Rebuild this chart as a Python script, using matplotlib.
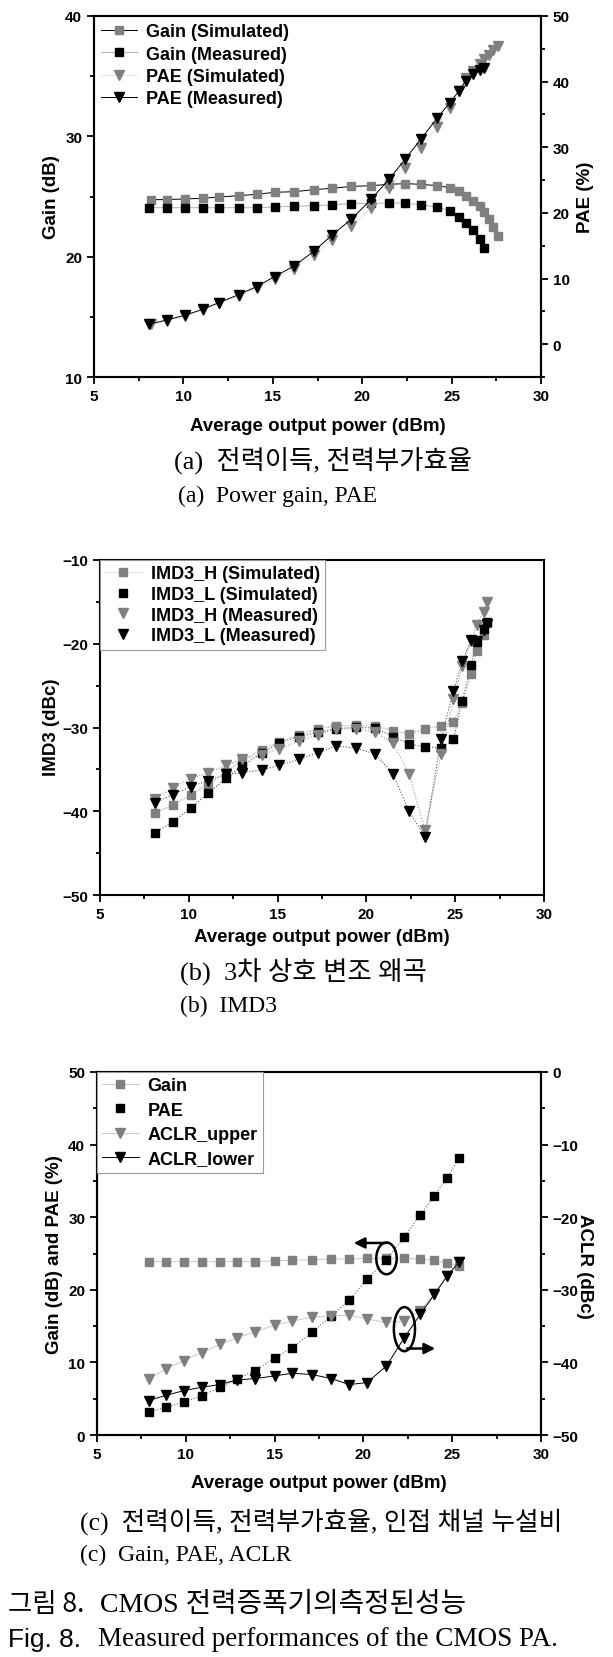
import numpy as np
import matplotlib
matplotlib.use('Agg')
import matplotlib.pyplot as plt
from matplotlib.patches import Ellipse
from matplotlib.ticker import MultipleLocator

plt.rcParams['font.family'] = ['Liberation Sans', 'DejaVu Sans']
plt.rcParams['font.weight'] = 'bold'

# ---- (a) gain / PAE ----
a_x_sim = [8.2, 9.1, 10.1, 11.1, 12.0, 13.1, 14.1, 15.1, 16.2, 17.3, 18.3, 19.4, 20.5,
           21.5, 22.4, 23.3, 24.2, 24.9, 25.4, 25.8, 26.2, 26.6, 26.8, 27.1, 27.3, 27.6]
gain_sim = [24.74, 24.74, 24.8, 24.85, 24.96, 25.07, 25.18, 25.35, 25.4, 25.57, 25.68, 25.84, 25.9,
            26.01, 26.07, 26.01, 25.9, 25.73, 25.46, 25.07, 24.63, 24.19, 23.74, 23.14, 22.47, 21.75]
pae_sim = [3.05, 3.55, 4.31, 5.23, 6.24, 7.36, 8.58, 10.0, 11.52, 13.55, 15.89, 18.02, 20.76,
           23.8, 26.85, 29.9, 33.15, 35.99, 38.53, 40.56, 41.68, 42.69, 43.4, 44.11, 44.82, 45.43]
a_x_meas = [8.1, 9.1, 10.1, 11.1, 12.0, 13.1, 14.1, 15.1, 16.2, 17.3, 18.3, 19.4, 20.5,
            21.5, 22.4, 23.3, 24.2, 24.9, 25.4, 25.8, 26.2, 26.6, 26.8]
gain_meas = [24.07, 24.07, 24.07, 24.07, 24.07, 24.07, 24.07, 24.13, 24.19, 24.24, 24.3, 24.41, 24.44,
             24.46, 24.46, 24.3, 24.13, 23.8, 23.3, 22.8, 22.25, 21.48, 20.76]
pae_meas = [3.05, 3.71, 4.42, 5.33, 6.35, 7.56, 8.78, 10.3, 11.93, 14.16, 16.6, 19.04, 22.08,
            25.13, 28.17, 31.32, 34.47, 36.8, 38.53, 40.15, 41.17, 41.78, 42.08]

# ---- (b) IMD3 ----
b_x = [8.1, 9.1, 10.1, 11.1, 12.1, 13.0, 14.1, 15.1, 16.2, 17.3, 18.3, 19.4, 20.5,
       21.5, 22.4, 23.3, 24.2, 24.9, 25.4, 25.9, 26.2, 26.6, 26.8]
imd_h_sim = [-40.17, -39.29, -38.02, -36.75, -35.31, -33.88, -32.69, -31.73, -30.86, -30.14, -29.82, -29.74,
             -29.82, -30.38, -30.78, -30.14, -29.82, -29.34, -27.11, -23.61, -20.83, -19.0, -17.48]
imd_l_sim = [-42.56, -41.28, -39.61, -37.86, -36.03, -34.6, -33.08, -31.81, -31.09, -30.54, -30.14, -29.98,
             -30.06, -31.09, -31.97, -32.29, -32.45, -31.41, -26.8, -22.5, -19.79, -18.28, -17.4]
imd_h_meas = [-38.5, -37.22, -36.11, -35.39, -34.52, -33.8, -33.24, -32.53, -31.65, -30.86, -30.14, -30.14,
              -30.54, -31.89, -35.55, -42.24, -33.16, -26.64, -22.66, -19.63, -17.72, -16.21, -15.01]
imd_l_meas = [-38.98, -38.02, -37.06, -36.35, -35.6, -35.4, -35.07, -34.52, -33.8, -33.0, -32.21, -32.45,
              -33.16, -35.55, -40.01, -43.03, -31.33, -25.68, -22.1, -19.55, -19.7, -18.3, -17.6]

# ---- (c) gain / PAE / ACLR ----
c_x = [7.9, 8.9, 9.9, 10.9, 11.9, 12.9, 13.9, 15.0, 16.0, 17.1, 18.2, 19.2, 20.2, 21.3, 22.3, 23.2, 24.0, 24.7, 25.4]
c_gain = [23.87, 23.87, 23.87, 23.87, 23.87, 23.87, 23.87, 23.97, 24.06, 24.15, 24.24, 24.24, 24.33,
          24.33, 24.33, 24.24, 24.06, 23.69, 23.32]
c_pae = [3.17, 3.82, 4.55, 5.38, 6.58, 7.68, 8.88, 10.63, 12.01, 14.12, 16.42, 18.54, 21.48,
         24.15, 27.28, 30.31, 32.98, 35.37, 38.22]
aclr_upper = [-42.23, -40.85, -39.74, -38.64, -37.53, -36.61, -35.79, -34.87, -34.31, -33.76, -33.58, -33.49,
              -34.04, -34.5, -34.31, -32.93, -30.54, -28.15, -26.13]
aclr_lower = [-45.26, -44.53, -43.88, -43.42, -43.05, -42.41, -42.23, -41.86, -41.49, -41.67, -42.23, -43.05,
              -42.78, -40.48, -36.61, -33.39, -30.63, -28.15, -26.13]

GRAY = '#808080'
W, H = 613, 1658
fig = plt.figure(figsize=(W / 100, H / 100), dpi=100)


def axes_px(left, top, right, bottom):
    return fig.add_axes([left / W, 1 - bottom / H, (right - left) / W, (bottom - top) / H])


def ftext(x, y, s, **kw):
    fig.text(x / W, 1 - y / H, s, **kw)


def style(ax, xlim, ylim, ymaj, ymin):
    ax.set_xlim(*xlim)
    ax.set_ylim(*ylim)
    ax.xaxis.set_major_locator(MultipleLocator(5))
    ax.xaxis.set_minor_locator(MultipleLocator(2.5))
    ax.yaxis.set_major_locator(MultipleLocator(ymaj))
    ax.yaxis.set_minor_locator(MultipleLocator(ymin))
    for s in ax.spines.values():
        s.set_linewidth(1.5)
    ax.tick_params(which='major', direction='out', length=5, width=1.3, labelsize=11)
    ax.tick_params(which='minor', direction='out', length=3, width=1.3)


lab = dict(fontsize=13.5, fontweight='bold', ha='center', va='center')
leg_prop = {'size': 13, 'weight': 'bold'}
ms = 5.5

# ===== panel (a) =====
ax = axes_px(94, 17, 541, 378)
style(ax, (5, 30), (10, 40), 10, 5)
ax2 = ax.twinx()
style(ax2, (5, 30), (-5, 50), 10, 5)
ax.plot(a_x_sim, gain_sim, '-', color='k', lw=0.7, marker='s', mfc=GRAY, mec=GRAY, ms=ms, label='Gain (Simulated)')
ax.plot(a_x_meas, gain_meas, '-', color='#b0b0b0', lw=0.7, marker='s', mfc='k', mec='k', ms=ms, label='Gain (Measured)')
ax2.plot(a_x_sim, pae_sim, '-', color='#e6e6e6', lw=0.7, marker='v', mfc=GRAY, mec=GRAY, ms=ms + 1, label='PAE (Simulated)')
ax2.plot(a_x_meas, pae_meas, '-', color='k', lw=0.7, marker='v', mfc='k', mec='k', ms=ms + 1, label='PAE (Measured)')
h1, l1 = ax.get_legend_handles_labels()
h2, l2 = ax2.get_legend_handles_labels()
ax2.legend(h1 + h2, l1 + l2, loc='upper left', bbox_to_anchor=(0, 1), borderaxespad=0, borderpad=0.4,
           frameon=False, prop=leg_prop, handlelength=2.0, handletextpad=0.5, labelspacing=0.3)
ftext(51, 197, 'Gain (dB)', rotation=90, **lab)
ftext(586, 197, 'PAE (%)', rotation=90, **lab)
ftext(318, 427, 'Average output power (dBm)', **lab)

# ===== panel (b) =====
bx = axes_px(100, 561, 544, 896)
style(bx, (5, 30), (-50, -10), 10, 5)
bx.plot(b_x, imd_h_sim, ':', color='#999999', lw=0.8)
bx.plot(b_x, imd_l_sim, ':', color='#555555', lw=0.8)
bx.plot(b_x, imd_h_meas, ':', color='#999999', lw=0.8)
bx.plot(b_x, imd_l_meas, ':', color='#555555', lw=0.8)
bx.plot(b_x, imd_h_sim, ls='-', color='#dddddd', lw=0.7, marker='s', mfc=GRAY, mec=GRAY, ms=ms,
        label='IMD3_H (Simulated)')
bx.plot(b_x, imd_l_sim, ls='none', marker='s', mfc='k', mec='k', ms=ms, label='IMD3_L (Simulated)')
bx.plot(b_x, imd_h_meas, ls='none', marker='v', mfc=GRAY, mec=GRAY, ms=ms + 1, label='IMD3_H (Measured)')
bx.plot(b_x, imd_l_meas, ls='none', marker='v', mfc='k', mec='k', ms=ms + 1, label='IMD3_L (Measured)')
lg = bx.legend(loc='upper left', bbox_to_anchor=(0, 1), borderaxespad=0, borderpad=0.3, frameon=True,
               fancybox=False, edgecolor='#999999', framealpha=1, prop=leg_prop, handlelength=2.0,
               handletextpad=0.5, labelspacing=0.2)
lg.get_frame().set_linewidth(0.8)
ftext(51, 727, 'IMD3 (dBc)', rotation=90, **lab)
ftext(322, 938, 'Average output power (dBm)', **lab)

# ===== panel (c) =====
cx = axes_px(97, 1073, 541, 1436)
style(cx, (5, 30), (0, 50), 10, 5)
cx2 = cx.twinx()
style(cx2, (5, 30), (-50, 0), 10, 5)
cx.plot(c_x, c_gain, '-', color='#c8c8c8', lw=0.7, marker='s', mfc=GRAY, mec=GRAY, ms=ms, label='Gain')
cx.plot(c_x, c_pae, ':', color='#666666', lw=0.8)
cx.plot(c_x, c_pae, ls='none', marker='s', mfc='k', mec='k', ms=ms, label='PAE')
cx2.plot(c_x, aclr_upper, '-', color='#c8c8c8', lw=0.7, marker='v', mfc=GRAY, mec=GRAY, ms=ms + 1, label='ACLR_upper')
cx2.plot(c_x, aclr_lower, '-', color='k', lw=0.7, marker='v', mfc='k', mec='k', ms=ms + 1, label='ACLR_lower')
h1, l1 = cx.get_legend_handles_labels()
h2, l2 = cx2.get_legend_handles_labels()
lg = cx2.legend(h1 + h2, l1 + l2, loc='upper left', bbox_to_anchor=(0, 1), borderaxespad=0, borderpad=0.3,
                frameon=True, fancybox=False, edgecolor='#999999', framealpha=1, prop=leg_prop,
                handlelength=2.0, handletextpad=0.5, labelspacing=0.4)
lg.get_frame().set_linewidth(0.8)
# markers for the left / right axis groups
cx2.add_patch(Ellipse((21.3, -25.67), 1.15, 4.37, fill=False, ec='k', lw=1.8, zorder=5))
cx2.annotate('', xy=(19.3, -23.55), xytext=(21.45, -23.55),
             arrowprops=dict(arrowstyle='-|>', color='k', lw=1.8, mutation_scale=16))
cx2.add_patch(Ellipse((22.31, -35.42), 1.19, 6.07, fill=False, ec='k', lw=1.8, zorder=5))
cx2.annotate('', xy=(24.2, -38.09), xytext=(22.31, -38.09),
             arrowprops=dict(arrowstyle='-|>', color='k', lw=1.8, mutation_scale=16))
ftext(55, 1255, 'Gain (dB) and PAE (%)', rotation=90, **lab)
ftext(584, 1266, 'ACLR (dBc)', rotation=270, **lab)
ftext(319, 1483, 'Average output power (dBm)', **lab)

# ===== captions =====
cap = dict(fontsize=17, fontweight='normal', ha='left', va='center',
           family=['Liberation Serif', 'Noto Sans CJK KR'])
kor = dict(cap, fontsize=19)
ftext(174, 460, '(a)  전력이득, 전력부가효율', **kor)
ftext(178, 496, '(a)  Power gain, PAE', **cap)
ftext(180, 972, '(b)  3차 상호 변조 왜곡', **kor)
ftext(180, 1006, '(b)  IMD3', **cap)
ftext(80, 1522, '(c)  전력이득, 전력부가효율, 인접 채널 누설비', **dict(kor, fontsize=18.5))
ftext(80, 1555, '(c)  Gain, PAE, ACLR', **cap)

sans = dict(fontsize=19, fontweight='normal', ha='left', va='center', family=['Noto Sans CJK KR', 'DejaVu Sans'])
serif = dict(fontsize=19.5, fontweight='normal', ha='left', va='center', family=['Liberation Serif', 'Noto Sans CJK KR'])
ftext(8, 1605, '그림 8.', **sans)
ftext(100, 1605, 'CMOS 전력증폭기의측정된성능', **dict(serif, fontsize=20))
ftext(8, 1640, 'Fig. 8.', **dict(sans, family=['Liberation Sans']))
ftext(98, 1640, 'Measured performances of the CMOS PA.', **serif)

fig.savefig('out.png', dpi=100)
